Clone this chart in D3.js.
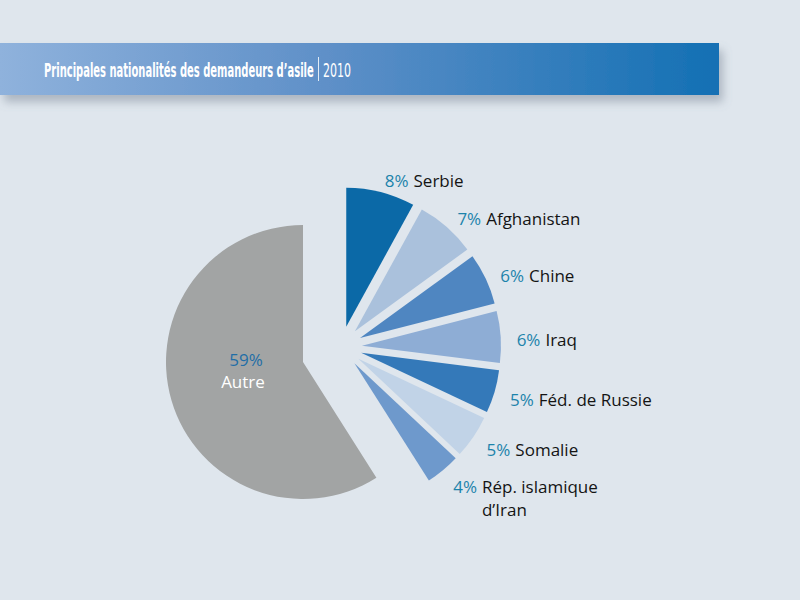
<!DOCTYPE html>
<html>
<head>
<meta charset="utf-8">
<script src="https://cdn.jsdelivr.net/npm/d3@7"></script>
<style>
  html, body { margin: 0; padding: 0; background: #dfe6ed; }
  svg { display: block; }
</style>
</head>
<body>
<div id="chart-container"></div>
<script>
// données
const pays = ["Serbie", "Afghanistan", "Chine", "Iraq", "Féd. de Russie", "Somalie", "Rép. islamique|d’Iran", "Autre"];
const parts = [8, 7, 6, 6, 5, 5, 4, 59];
const couleurs = ["#0b69a7", "#aac1dc", "#4f86c1", "#8eadd5", "#3479b9", "#c1d3e7", "#6e99cc", "#a2a4a4"];
const titre = "Principales nationalités des demandeurs d’asile";
const annee = "2010";

const width = 800, height = 600;

const svg = d3.select("#chart-container")
    .append("svg")
    .attr("width", width)
    .attr("height", height)
    .style("font-family", "'Open Sans', 'Noto Sans', sans-serif");

svg.append("rect").attr("width", width).attr("height", height).attr("fill", "#dfe6ed");

const defs = svg.append("defs");
const grad = defs.append("linearGradient").attr("id", "bandeau");
grad.append("stop").attr("offset", "0%").attr("stop-color", "#8fb2dc");
grad.append("stop").attr("offset", "45%").attr("stop-color", "#5f90c8");
grad.append("stop").attr("offset", "100%").attr("stop-color", "#1370b4");

const ombre = defs.append("filter").attr("id", "ombre")
    .attr("x", "-5%").attr("y", "-30%").attr("width", "115%").attr("height", "180%");
ombre.append("feDropShadow")
    .attr("dx", 4).attr("dy", 7).attr("stdDeviation", 5)
    .attr("flood-color", "#6d7c8c").attr("flood-opacity", 0.45);

// bandeau du titre
svg.append("rect")
    .attr("x", 0).attr("y", 43).attr("width", 719).attr("height", 52)
    .attr("fill", "url(#bandeau)")
    .attr("filter", "url(#ombre)");

// titre étiré à la largeur voulue (270px)
const titreTxt = svg.append("text")
    .attr("fill", "#fff")
    .style("font-family", "'Liberation Sans Narrow', 'DejaVu Sans Condensed', 'Open Sans', sans-serif")
    .style("font-size", "20px")
    .style("font-weight", "bold")
    .text(titre);
const lt = titreTxt.node().getComputedTextLength();
titreTxt.attr("transform", `translate(44,77) scale(${270 / lt},1)`);

svg.append("line")
    .attr("x1", 318.5).attr("x2", 318.5).attr("y1", 57).attr("y2", 81)
    .attr("stroke", "#e2ecf6").attr("stroke-width", 1);

const anTxt = svg.append("text")
    .attr("fill", "#fff")
    .style("font-family", "'Liberation Sans Narrow', 'DejaVu Sans Condensed', 'Open Sans', sans-serif")
    .style("font-size", "19px")
    .style("font-weight", "300")
    .text(annee);
const la = anTxt.node().getComputedTextLength();
anTxt.attr("transform", `translate(323,77) scale(${28 / la},1)`);

// camembert
const rGris = 137, rBleu = 139, ecart = 21;
const centreGris = [303, 362];
const centreBleu = [341, 347];

const pie = d3.pie().sort(null).value(d => d.v);
const arcs = pie(pays.map((p, i) => ({ nom: p, v: parts[i], c: couleurs[i] })));

const arcGris = d3.arc().innerRadius(0).outerRadius(rGris);
const arcBleu = d3.arc().innerRadius(0).outerRadius(rBleu);

const g = svg.append("g");

arcs.forEach((a, i) => {
    const autre = a.data.nom === "Autre";
    const mid = (a.startAngle + a.endAngle) / 2;
    let cx, cy;
    if (autre) {
        [cx, cy] = centreGris;
    } else {
        // parts bleues décalées le long de leur bissectrice
        cx = centreBleu[0] + ecart * Math.sin(mid);
        cy = centreBleu[1] - ecart * Math.cos(mid);
    }
    g.append("path")
        .attr("transform", `translate(${cx},${cy})`)
        .attr("d", autre ? arcGris(a) : arcBleu(a))
        .attr("fill", a.data.c);

    if (autre) {
        svg.append("text")
            .attr("x", cx - 57).attr("y", cy + 4)
            .attr("text-anchor", "middle")
            .attr("fill", "#1f6ea7")
            .style("font-size", "17px")
            .text(a.data.v + "%");
        svg.append("text")
            .attr("x", cx - 60).attr("y", cy + 26)
            .attr("text-anchor", "middle")
            .attr("fill", "#fff")
            .style("font-size", "17px")
            .text(a.data.nom);
    } else {
        const rl = 155;
        const lx = cx + rl * Math.sin(mid);
        const ly = cy - rl * Math.cos(mid) + 10;
        const pct = svg.append("text")
            .attr("x", lx).attr("y", ly)
            .attr("fill", "#1c83ab")
            .style("font-size", "17px")
            .text(a.data.v + "%");
        const w = pct.node().getComputedTextLength() + 5;
        const lignes = a.data.nom.split("|");
        const nom = svg.append("text")
            .attr("x", lx + w).attr("y", ly)
            .attr("fill", "#141414")
            .style("font-size", "17px");
        lignes.forEach((l, k) => {
            nom.append("tspan").attr("x", lx + w).attr("dy", k ? 23 : 0).text(l);
        });
    }
});
</script>
</body>
</html>
